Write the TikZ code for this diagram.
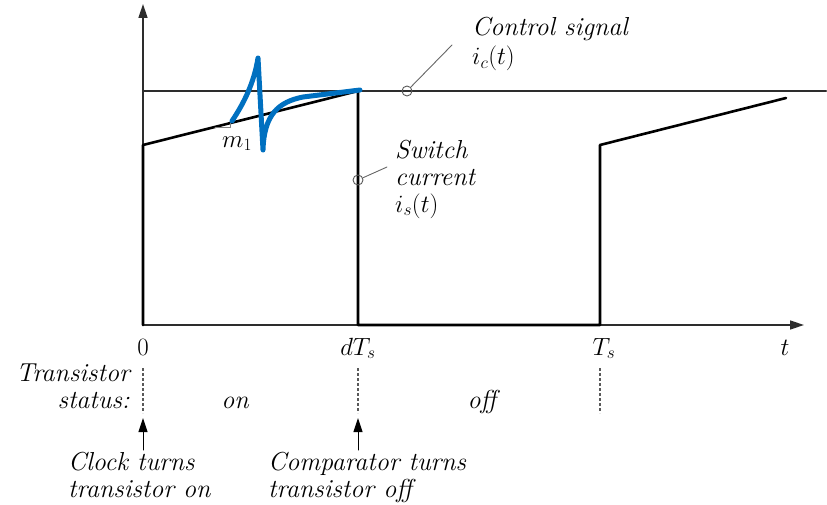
\documentclass[tikz,border=0pt]{standalone}
\usetikzlibrary{arrows.meta}
\definecolor{pen}{RGB}{0,112,192}
\definecolor{axisgray}{RGB}{45,45,45}
\begin{document}
\begin{tikzpicture}[x=1pt, y=1pt, line join=round, line cap=round,
	font=\fontsize{26}{27}\selectfont,
	txt/.style={font=\fontsize{26}{27}\selectfont\itshape, inner sep=0pt},
	leader/.style={gray!80!black, line width=0.9pt},
	ring/.style={draw=gray!70!black, line width=0.9pt, circle, minimum size=10pt, inner sep=0pt},
	tip/.style={-{Triangle[length=14pt, width=9pt]}}]
	\useasboundingbox (-143,-179) rectangle (684,325);
	
	% Trục tọa độ
	\draw[axisgray, line width=1.5pt, tip] (0,0) -- (661,0);
	\draw[axisgray, line width=1.5pt, tip] (0,0) -- (0,321);
	
	% Tín hiệu điều khiển
	\draw[axisgray, line width=2pt] (0,234) -- (683,234);
	
	% Dòng qua khóa
	\draw[line width=2.6pt] (0,0) -- (0,180) -- (215,234) -- (215,0) -- (457,0) -- (457,180) -- (643,227);
	
	% Tam giác độ dốc m1
	\draw[gray, line width=0.7pt] (72,198.1) -- (87,198.1) -- (87,201.9);
	\node[txt, font=\fontsize{26}{27}\selectfont, anchor=base west] (slope) at (79,178) {$m_1$};
	
	% Chú thích tín hiệu
	\node[ring] (ringc) at (264,234) {};
	\coordinate (endc) at (309,280);
	\draw[leader] (ringc) -- (endc);
	\node[txt, align=left, anchor=base west] (ctrl) at (329,260) {Control signal\\[2pt]$i_c(t)$};
	
	\node[ring] (rings) at (215,145) {};
	\coordinate (ends) at (244,158);
	\draw[leader] (rings) -- (ends);
	\node[txt, align=left, anchor=base west] (swc) at (252,113) {Switch\\current\\$i_s(t)$};
	
	% Nhãn trên trục thời gian
	\node[anchor=base, inner sep=0pt] (zero) at (0,-30) {$0$};
	\node[anchor=base, inner sep=0pt] (dts) at (215,-30) {$dT_s$};
	\node[anchor=base, inner sep=0pt] (ts) at (461,-30) {$T_s$};
	\node[anchor=base, inner sep=0pt] (tt) at (642,-30) {$t$};
	
	% Trạng thái transistor
	\node[txt, align=right, anchor=base east] (status) at (-13,-83) {Transistor\\status:};
	\node[txt, anchor=base] (on) at (92,-83) {on};
	\node[txt, anchor=base] (off) at (339,-83) {off};
	\foreach \xx in {0,215,457}
		\draw[gray!70!black, line width=1.2pt, dash pattern=on 3pt off 2pt, line cap=butt] (\xx,-43) -- (\xx,-88);
	
	% Các sự kiện
	\coordinate (clk0) at (0,-125);
	\coordinate (clk1) at (0,-93);
	\coordinate (cmp0) at (215,-125);
	\coordinate (cmp1) at (215,-93);
	\draw[line width=1pt, tip] (clk0) -- (clk1);
	\draw[line width=1pt, tip] (cmp0) -- (cmp1);
	\node[txt, align=left, anchor=base west] (clock) at (-75,-172) {Clock turns\\transistor on};
	\node[txt, align=left, anchor=base west] (comp) at (125,-172) {Comparator turns\\transistor off};
	
	% Nét vẽ tay màu xanh
	\draw[pen, line width=5pt] (89,204) .. controls (101,222) and (111,242) .. (115,267)
		-- (120,175) .. controls (121,210) and (135,223) .. (160,228) -- (217,235);
\end{tikzpicture}
\end{document}
